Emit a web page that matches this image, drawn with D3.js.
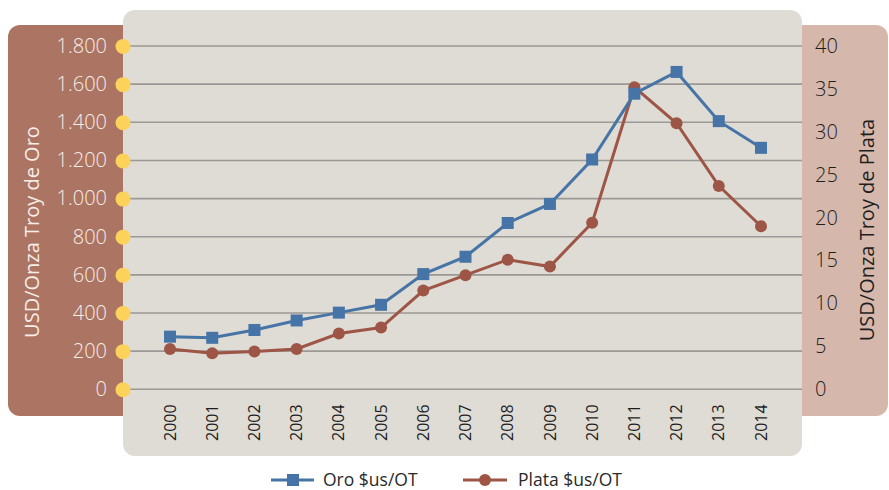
<!DOCTYPE html>
<html>
<head>
<meta charset="utf-8">
<script src="https://cdn.jsdelivr.net/npm/d3@7"></script>
<style>
  html, body { margin: 0; padding: 0; background: #ffffff; }
  svg { display: block; }
  text { font-family: "Open Sans", "Noto Sans", sans-serif; }
</style>
</head>
<body>
<svg id="chart" width="889" height="490"></svg>
<script>
// ---- Data ----
const years = ["2000","2001","2002","2003","2004","2005","2006","2007","2008","2009","2010","2011","2012","2013","2014"];
const oro   = [276, 270, 311, 361, 402, 443, 604, 695, 872, 972, 1205, 1550, 1664, 1406, 1266];
const plata = [4.7, 4.2, 4.4, 4.7, 6.5, 7.2, 11.5, 13.3, 15.1, 14.3, 19.4, 35.2, 31.0, 23.7, 19.0];
const leftTicks  = [0, 200, 400, 600, 800, 1000, 1200, 1400, 1600, 1800];
const rightTicks = [0, 5, 10, 15, 20, 25, 30, 35, 40];
const seriesNames = ["Oro $us/OT", "Plata $us/OT"];
const leftTitle = "USD/Onza Troy de Oro";
const rightTitle = "USD/Onza Troy de Plata";

const colOro = "#4674a6", colPlata = "#9d5546";
const fmt = d3.format(",");
const fmtES = v => fmt(v).replace(/,/g, ".");

const svg = d3.select("#chart");

// ---- Panels ----
const pTop = 10, pBottom = 456, pLeft = 123, pRight = 802;
svg.append("path")
  .attr("d", roundedRect(8, 25, 123 - 8, 416 - 25, 12, [true, false, false, true]))
  .attr("fill", "#ab7463");
svg.append("path")
  .attr("d", roundedRect(790, 25, 888 - 790, 416 - 25, 12, [false, true, true, false]))
  .attr("fill", "#d6b7ab");
svg.append("rect")
  .attr("x", pLeft).attr("y", pTop)
  .attr("width", pRight - pLeft).attr("height", pBottom - pTop)
  .attr("rx", 12).attr("ry", 12)
  .attr("fill", "#dfdbd5");

function roundedRect(x, y, w, h, r, c) {
  const p = d3.path();
  p.moveTo(x + (c[0] ? r : 0), y);
  p.lineTo(x + w - (c[1] ? r : 0), y);
  if (c[1]) p.arcTo(x + w, y, x + w, y + r, r);
  p.lineTo(x + w, y + h - (c[2] ? r : 0));
  if (c[2]) p.arcTo(x + w, y + h, x + w - r, y + h, r);
  p.lineTo(x + (c[3] ? r : 0), y + h);
  if (c[3]) p.arcTo(x, y + h, x, y + h - r, r);
  p.lineTo(x, y + (c[0] ? r : 0));
  if (c[0]) p.arcTo(x, y, x + r, y, r);
  p.closePath();
  return p.toString();
}

// ---- Scales ----
const x = d3.scalePoint().domain(years).range([170, 761]);
const yL = d3.scaleLinear().domain([0, 1800]).range([389.3, 46]);
const yR = d3.scaleLinear().domain([0, 40]).range([389.3, 46]);

// ---- Gridlines ----
svg.append("g").selectAll("line").data(leftTicks).join("line")
  .attr("x1", pLeft).attr("x2", pRight)
  .attr("y1", d => yL(d)).attr("y2", d => yL(d))
  .attr("stroke", "#9b9995").attr("stroke-width", 1.6);

// ---- Left axis ----
const gL = svg.append("g").attr("transform", `translate(${pLeft},0)`)
  .call(d3.axisLeft(yL).tickValues(leftTicks).tickFormat(fmtES).tickSize(0).tickPadding(16));
gL.select(".domain").remove();
gL.selectAll("text").attr("fill", "#f6ede8").attr("font-size", 20)
  .attr("font-family", "'Open Sans', sans-serif").attr("font-weight", 300);
gL.selectAll(".tick").append("circle").attr("r", 7.5).attr("fill", "#fdd25a");

// ---- Right axis ----
const gR = svg.append("g").attr("transform", `translate(${pRight},0)`)
  .call(d3.axisRight(yR).tickValues(rightTicks).tickSize(0).tickPadding(13));
gR.select(".domain").remove();
gR.selectAll("text").attr("fill", "#1e1e1e").attr("font-size", 20)
  .attr("font-family", "'Open Sans', sans-serif").attr("font-weight", 300);

// ---- X axis labels ----
svg.append("g").selectAll("text").data(years).join("text")
  .attr("transform", d => `translate(${x(d)},441) rotate(-90)`)
  .attr("dy", "0.35em")
  .attr("text-anchor", "start")
  .attr("font-size", 16)
  .attr("fill", "#1e1e1e")
  .text(d => d);

// ---- Axis titles ----
svg.append("text")
  .attr("transform", "translate(32,232) rotate(-90)")
  .attr("text-anchor", "middle").attr("dy", "0.35em")
  .attr("font-size", 20).attr("fill", "#f6ede8")
  .text(leftTitle);
svg.append("text")
  .attr("transform", "translate(867,230) rotate(-90)")
  .attr("text-anchor", "middle").attr("dy", "0.35em")
  .attr("font-size", 20).attr("fill", "#1e1e1e")
  .text(rightTitle);

// ---- Lines ----
const lineL = d3.line().x((d, i) => x(years[i])).y(d => yL(d));
const lineR = d3.line().x((d, i) => x(years[i])).y(d => yR(d));

svg.append("path").datum(plata).attr("d", lineR)
  .attr("fill", "none").attr("stroke", colPlata).attr("stroke-width", 3);
svg.append("g").selectAll("circle").data(plata).join("circle")
  .attr("cx", (d, i) => x(years[i])).attr("cy", d => yR(d))
  .attr("r", 6).attr("fill", colPlata);

svg.append("path").datum(oro).attr("d", lineL)
  .attr("fill", "none").attr("stroke", colOro).attr("stroke-width", 3);
svg.append("g").selectAll("rect").data(oro).join("rect")
  .attr("x", (d, i) => x(years[i]) - 6).attr("y", d => yL(d) - 6)
  .attr("width", 12).attr("height", 12).attr("fill", colOro);

// ---- Legend ----
const lg = svg.append("g");
const ly = 480;
lg.append("line").attr("x1", 271).attr("x2", 314).attr("y1", ly).attr("y2", ly)
  .attr("stroke", colOro).attr("stroke-width", 3);
lg.append("rect").attr("x", 293 - 6).attr("y", ly - 6).attr("width", 12).attr("height", 12).attr("fill", colOro);
lg.append("text").attr("x", 323).attr("y", 486)
  .attr("font-size", 17.5).attr("fill", "#2a2a2a").text(seriesNames[0]);
lg.append("line").attr("x1", 463).attr("x2", 507).attr("y1", ly).attr("y2", ly)
  .attr("stroke", colPlata).attr("stroke-width", 3);
lg.append("circle").attr("cx", 485).attr("cy", ly).attr("r", 6).attr("fill", colPlata);
lg.append("text").attr("x", 518).attr("y", 486)
  .attr("font-size", 17.5).attr("fill", "#2a2a2a").text(seriesNames[1]);
</script>
</body>
</html>
